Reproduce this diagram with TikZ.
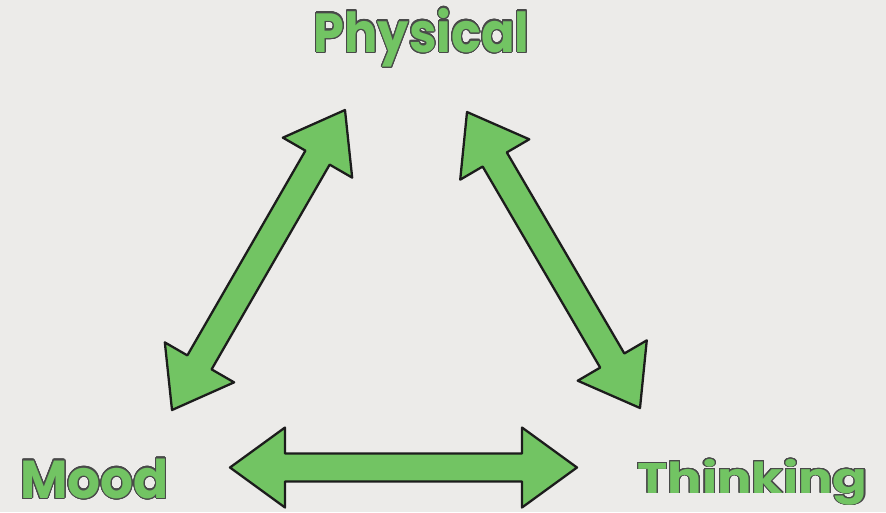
\documentclass[tikz,border=0pt]{standalone}
\usepackage{fontspec}
\setmainfont{Poppins}
\usepackage{contour}
\usetikzlibrary{calc}
\contourlength{0.7pt}
\contournumber{24}
\definecolor{paper}{HTML}{ECEBE9}
\definecolor{leaf}{HTML}{72C463}
\definecolor{ink}{HTML}{1C1C1C}
\newcommand\fatarrow[2]{%
  \filldraw[fatarc] (#1) -- ($(#1)!1.1cm!(#2)!0.8cm!90:(#2)$) -- ($(#1)!1.1cm!(#2)!0.28cm!90:(#2)$)
    -- ($(#2)!1.1cm!(#1)!0.28cm!-90:(#1)$) -- ($(#2)!1.1cm!(#1)!0.8cm!-90:(#1)$) -- (#2)
    -- ($(#2)!1.1cm!(#1)!0.8cm!90:(#1)$) -- ($(#2)!1.1cm!(#1)!0.28cm!90:(#1)$)
    -- ($(#1)!1.1cm!(#2)!0.28cm!-90:(#2)$) -- ($(#1)!1.1cm!(#2)!0.8cm!-90:(#2)$) -- cycle;}
\newcommand\wordtext[3]{\scalebox{#1}[#2]{\contour{ink!80}{#3}}}
\begin{document}
\begin{tikzpicture}[x=0.02cm,y=-0.02cm]
    \tikzset{
        word/.style={anchor=base, inner sep=0, text=leaf, font=\fontsize{32}{36}\selectfont\bfseries},
        fatarc/.style={fill=leaf, draw=ink, line width=1.3pt, line join=round}
    }
    \fill[paper] (0,0) rectangle (886,512);

    \draw node[word] (phys) at (421.5,52) {\wordtext{0.88}{0.98}{Physical}};
    \draw node[word] (mood) at (94.5,498) {\wordtext{0.92}{0.95}{Mood}};
    \draw node[word] (think) at (752.5,493) {\wordtext{0.91}{0.76}{Thinking}};

    % arrow ends
    \coordinate (ml) at (172,410);
    \coordinate (pl) at (345,110);
    \coordinate (pr) at (467,112);
    \coordinate (tr) at (640,408);
    \coordinate (mb) at (230,467.5);
    \coordinate (tb) at (577,467.5);

    \foreach \x/\y in {%
        ml/pl, pr/tr, mb/tb%
    }{
        \fatarrow{\x}{\y}
    }
\end{tikzpicture}
\end{document}
